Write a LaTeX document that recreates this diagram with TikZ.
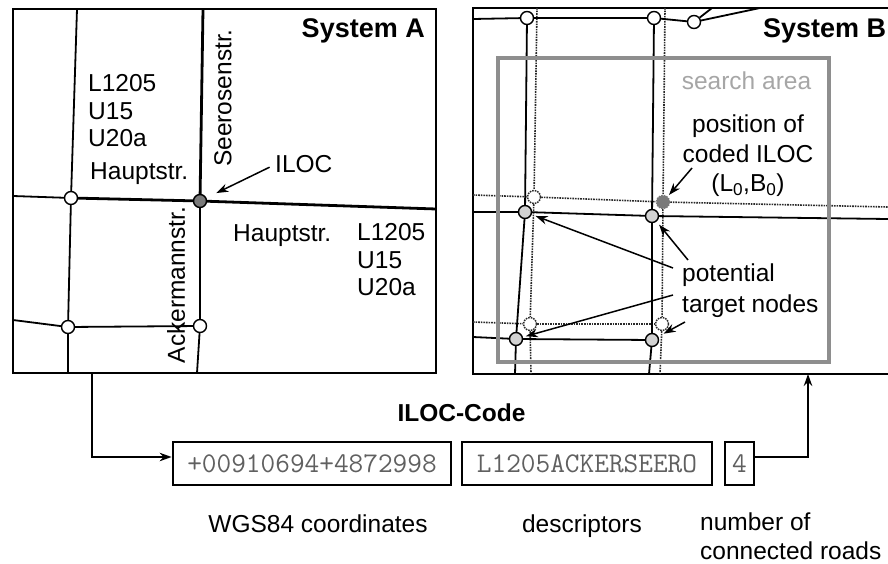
\documentclass[tikz,border=0pt]{standalone}
\usepackage{fontspec}
\setmainfont{Liberation Sans}
\usetikzlibrary{arrows.meta}
\newcommand\lblfont{\fontsize{24.5}{27.5}\selectfont}
\newcommand\ttlfont{\fontsize{27}{30}\selectfont\bfseries}
\newcommand\codefont{\fontsize{28.5}{30}\selectfont\ttfamily}
\definecolor{areagray}{HTML}{8E8E8E}
\definecolor{areatext}{HTML}{A6A6A6}
\definecolor{codegray}{HTML}{606060}
\definecolor{dotgray}{HTML}{2A2A2A}
\definecolor{ilocgray}{HTML}{7A7A7A}
\definecolor{targetgray}{HTML}{D2D2D2}
\begin{document}
\begin{tikzpicture}[x=1pt,y=-1pt,
  frame/.style={draw=black,line width=2.2pt},
  road/.style={line width=1.8pt},
  mainroad/.style={line width=2.8pt},
  ghostroad/.style={draw=dotgray,line width=1.6pt,dash pattern=on 1.6pt off 1.0pt},
  junction/.style={circle,draw=black,line width=1.4pt,fill=white,minimum size=13pt,inner sep=0pt},
  ilocjunction/.style={junction,fill=ilocgray},
  target/.style={junction,fill=targetgray},
  ghost/.style={circle,draw=dotgray,line width=1.5pt,dash pattern=on 1.6pt off 1.0pt,fill=white,minimum size=13pt,inner sep=0pt},
  ghostiloc/.style={ghost,fill=ilocgray,draw=ilocgray},
  lbl/.style={inner sep=0pt,font=\lblfont},
  ttl/.style={inner sep=0pt,font=\ttlfont},
  arr/.style={-{Stealth[length=12pt,width=8.5pt]},line width=1.5pt},
  codebox/.style={draw=black,line width=2.8pt,minimum height=43pt,inner sep=0pt,text=codegray,font=\codefont},
  area/.style={draw=areagray,line width=4.5pt}
]
\useasboundingbox (0,0) rectangle (888,564);
\clip (0,0) rectangle (888,564);

% ---------------- System A ----------------
\draw[frame] (13,9) rectangle (436,373);
\node[ttl,anchor=base east] (titleA) at (425,38) {System A};

\node[junction] (a1) at (71,198) {};
\node[junction] (a2) at (68,327) {};
\node[ilocjunction] (ailoc) at (200,201) {};
\node[junction] (a3) at (200,326) {};

\coordinate (a1top) at (77,9);
\coordinate (a2bot) at (68,373);
\coordinate (a1left) at (13,196);
\coordinate (a2left) at (13,320);
\coordinate (iloctop) at (203,9);
\coordinate (a3bot) at (197,373);
\coordinate (aright) at (436,209);

\draw[road] (a1left) -- (a1);
\draw[road] (a1top) -- (a1);
\draw[road] (a1) -- (a2);
\draw[road] (a2) -- (a2bot);
\draw[road] (a2left) -- (a2);
\draw[road] (a2) -- (a3);
\draw[road] (a3) -- (a3bot);
\draw[mainroad] (a1) -- (ailoc);
\draw[mainroad] (ailoc) -- (aright);
\draw[mainroad] (iloctop) -- (ailoc);
\draw[mainroad] (ailoc) -- (a3);

\node[lbl,anchor=north west,align=left] (descA1) at (88,74.5) {L1205\\U15\\U20a};
\node[lbl,anchor=base west] (haupt1) at (90,180) {Hauptstr.};
\node[lbl,anchor=base west] (haupt2) at (233,241) {Hauptstr.};
\node[lbl,anchor=north west,align=left] (descA2) at (357,223.5) {L1205\\U15\\U20a};
\node[lbl,rotate=90] (seerosen) at (223,98) {Seerosenstr.};
\node[lbl,rotate=90] (ackermann) at (176,285) {Ackermannstr.};
\node[lbl,anchor=base west] (ilocA) at (275,173) {ILOC};
\draw[arr,shorten <=6pt,shorten >=11pt] (ilocA.west) -- (ailoc);

% ---------------- System B ----------------
\draw[frame] (888,8) -- (473,8) -- (473,374) -- (888,374);
\node[ttl,anchor=base west] (titleB) at (763,38) {System B};

% ghost (System A) map
\node[ghost] (g1) at (534,197) {};
\node[ghostiloc] (gI) at (663,202) {};
\node[ghost] (g3) at (530,324) {};
\node[ghost] (g4) at (662,324) {};
\coordinate (g1top) at (537,8);
\coordinate (g3bot) at (531,374);
\coordinate (gItop) at (665,8);
\coordinate (g4bot) at (660,374);
\coordinate (g1left) at (473,195);
\coordinate (gIright) at (888,207);
\coordinate (g3left) at (473,322);
\draw[ghostroad] (g1top) -- (g1);
\draw[ghostroad] (g1) -- (g3);
\draw[ghostroad] (g3) -- (g3bot);
\draw[ghostroad] (gItop) -- (gI);
\draw[ghostroad] (gI) -- (g4);
\draw[ghostroad] (g4) -- (g4bot);
\draw[ghostroad] (g1left) -- (g1);
\draw[ghostroad] (g1) -- (gI);
\draw[ghostroad] (gI) -- (gIright);
\draw[ghostroad] (g3left) -- (g3);
\draw[ghostroad] (g3) -- (g4);

% real map of System B
\node[junction] (b1) at (527,18) {};
\node[junction] (b2) at (654,18) {};
\node[junction] (b3) at (694,22) {};
\node[target] (t1) at (525,212) {};
\node[target] (t2) at (652,216) {};
\node[target] (t3) at (516,339) {};
\node[target] (t4) at (652,340) {};
\coordinate (b1left) at (473,19);
\coordinate (b3up) at (712,8);
\coordinate (b3right) at (760,8);
\coordinate (t3bot) at (515,374);
\coordinate (t4bot) at (649,374);
\coordinate (t1left) at (473,212);
\coordinate (t2right) at (888,219);
\coordinate (t3left) at (473,337);
\draw[road] (b1left) -- (b1);
\draw[road] (b1) -- (b2);
\draw[road] (b2) -- (b3);
\draw[road] (b3) -- (b3up);
\draw[road] (b3) -- (b3right);
\draw[road] (b1) -- (t1);
\draw[road] (t1) -- (t3);
\draw[road] (t3) -- (t3bot);
\draw[road] (b2) -- (t2);
\draw[road] (t2) -- (t4);
\draw[road] (t4) -- (t4bot);
\draw[road] (t1left) -- (t1);
\draw[road] (t1) -- (t2);
\draw[road] (t2) -- (t2right);
\draw[road] (t3left) -- (t3);
\draw[road] (t3) -- (t4);

% search area
\draw[area] (498,58) rectangle (829,362);
\node[lbl,anchor=base,text=areatext] (searchlbl) at (746.5,90) {search area};

\node[lbl,anchor=north,align=center,font=\fontsize{24.5}{29.5}\selectfont] (poslbl) at (748,115) {position of\\coded ILOC\\(L\textsubscript{0},B\textsubscript{0})};
\coordinate (posArr) at (692,168);
\draw[arr,shorten >=2pt] (posArr) -- (gI);

\node[lbl,anchor=north west,align=left,font=\fontsize{24.5}{30.5}\selectfont] (targetlbl) at (682,264) {potential\\target nodes};
\coordinate (ta1) at (673,268);
\coordinate (ta2) at (688,260);
\coordinate (ta3) at (673,295);
\coordinate (ta4) at (685,322);
\draw[arr,shorten >=4pt] (ta1) -- (t1);
\draw[arr,shorten >=4pt] (ta2) -- (t2);
\draw[arr,shorten >=3pt] (ta3) -- (t3);
\draw[arr,shorten >=6pt] (ta4) -- (t4);

% ---------------- ILOC-Code ----------------
\node[ttl,font=\fontsize{24.5}{28}\selectfont\bfseries] (codettl) at (461.5,413) {ILOC-Code};
\node[codebox,minimum width=278pt] (code1) at (312,463.5) {+00910694+4872998};
\node[codebox,minimum width=250pt] (code2) at (587,463.5) {L1205ACKERSEERO};
\node[codebox,minimum width=29pt] (code3) at (739.5,463.5) {4};

\node[lbl,anchor=base] (wgs) at (318,532) {WGS84 coordinates};
\node[lbl,anchor=base] (descr) at (582,532) {descriptors};
\node[lbl,anchor=north west,align=left,font=\fontsize{24.5}{29}\selectfont] (numroads) at (700,513) {number of\\connected roads};

\coordinate (aOut) at (92,373);
\coordinate (bIn) at (808,374);
\draw[arr] (aOut) |- ([yshift=6.5pt]code1.west);
\draw[arr] ([yshift=6.5pt]code3.east) -| (bIn);
\end{tikzpicture}
\end{document}
